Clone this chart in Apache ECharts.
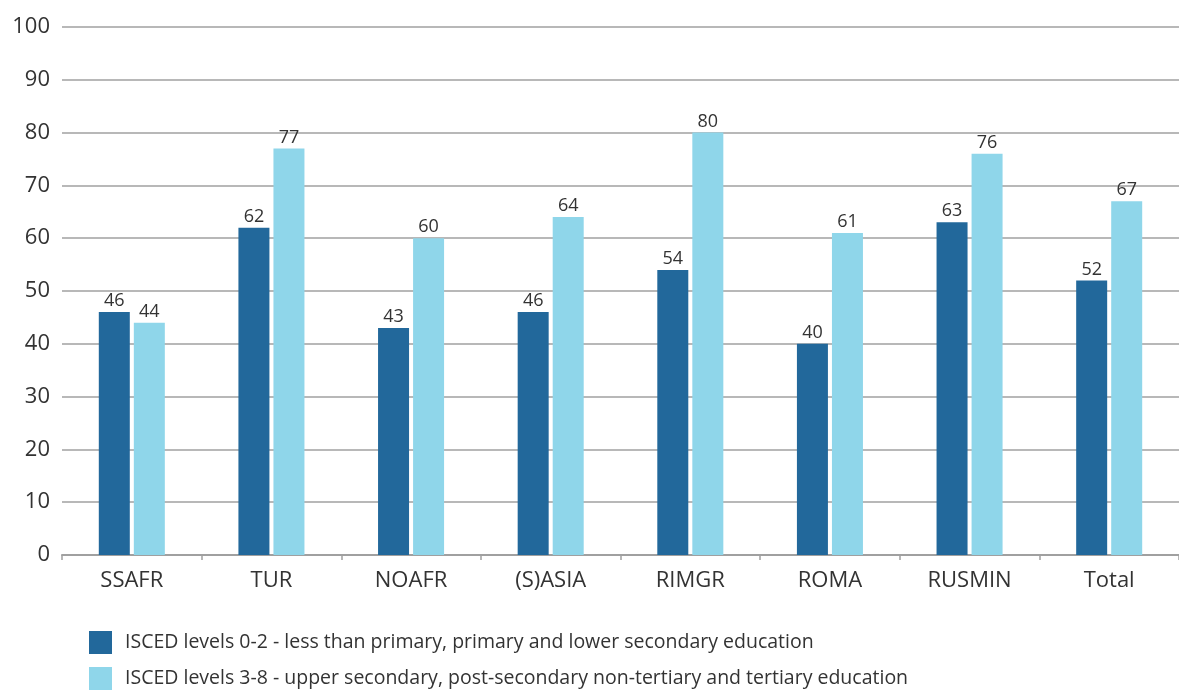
<!DOCTYPE html>
<html>
<head>
<meta charset="utf-8">
<script src="https://cdn.jsdelivr.net/npm/echarts@6/dist/echarts.min.js"></script>
<style>
  html, body { margin: 0; padding: 0; background: #fff; }
  #main { width: 1179px; height: 693px; }
</style>
</head>
<body>
<div id="main"></div>
<script>
var categories = ['SSAFR', 'TUR', 'NOAFR', '(S)ASIA', 'RIMGR', 'ROMA', 'RUSMIN', 'Total'];
var lowEdu = [46, 62, 43, 46, 54, 40, 63, 52];
var highEdu = [44, 77, 60, 64, 80, 61, 76, 67];

var lowName = 'ISCED levels 0-2 - less than primary, primary and lower secondary education';
var highName = 'ISCED levels 3-8 - upper secondary, post-secondary non-tertiary and tertiary education';

var font = 'Open Sans';

var myChart = echarts.init(document.getElementById('main'));

var barLabel = {
    show: true,
    position: 'top',
    distance: 2,
    color: '#333',
    fontSize: 18,
    fontFamily: font
};

var legendText = {
    fontSize: 19.5,
    fontFamily: font,
    color: '#333',
    padding: [0, 0, 0, 8]
};

myChart.setOption({
    animation: false,
    grid: {
        left: 62,
        right: 0,
        top: 27,
        bottom: 138
    },
    // two legends, one row each
    legend: [
        {
            left: 89,
            top: 631,
            padding: 0,
            itemWidth: 23,
            itemHeight: 23,
            icon: 'rect',
            textStyle: legendText,
            data: [lowName]
        },
        {
            left: 89,
            top: 667,
            padding: 0,
            itemWidth: 23,
            itemHeight: 23,
            icon: 'rect',
            textStyle: legendText,
            data: [highName]
        }
    ],
    xAxis: {
        type: 'category',
        data: categories,
        axisLine: { lineStyle: { color: '#a0a0a0', width: 2 } },
        axisTick: { show: true, length: 5, lineStyle: { color: '#a0a0a0', width: 1.5 } },
        axisLabel: {
            fontSize: 22,
            fontFamily: font,
            color: '#333',
            margin: 15
        }
    },
    yAxis: {
        type: 'value',
        min: 0,
        max: 100,
        interval: 10,
        axisLine: { show: false },
        axisTick: { show: false },
        splitLine: { lineStyle: { color: '#a0a0a0', width: 1.5 } },
        axisLabel: {
            fontSize: 22,
            fontFamily: font,
            color: '#333',
            margin: 12
        }
    },
    series: [
        {
            name: lowName,
            type: 'bar',
            data: lowEdu,
            barWidth: 31,
            barGap: '13%',
            itemStyle: { color: '#22689b' },
            label: barLabel
        },
        {
            name: highName,
            type: 'bar',
            data: highEdu,
            barWidth: 31,
            barGap: '13%',
            itemStyle: { color: '#8fd6ea' },
            label: barLabel
        }
    ]
});
</script>
</body>
</html>
